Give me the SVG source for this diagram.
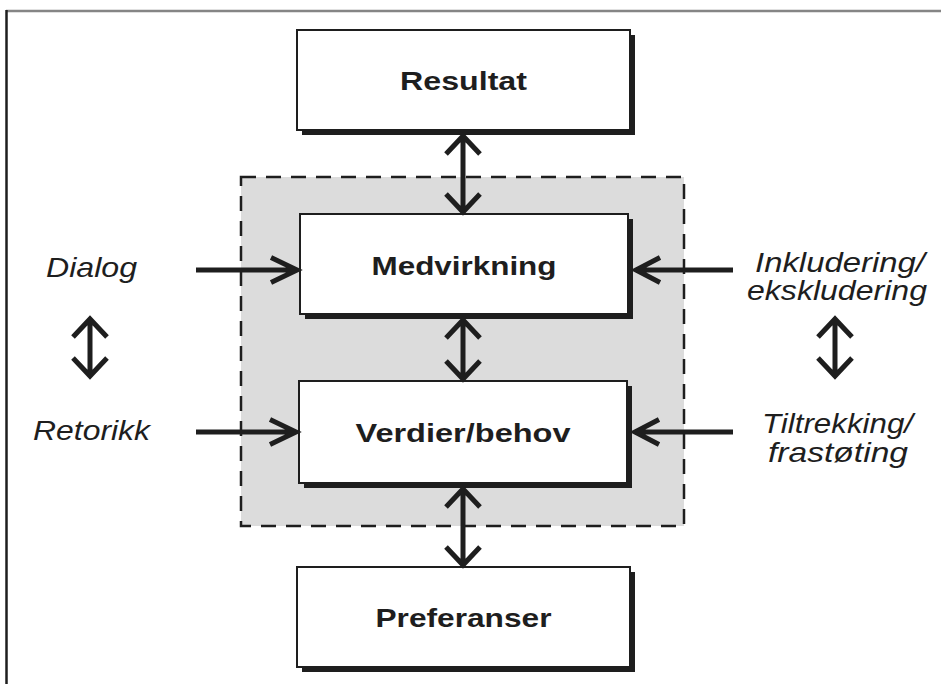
<svg xmlns="http://www.w3.org/2000/svg" width="941" height="684" viewBox="0 0 941 684">
<defs>
<style>
.frameTop{stroke:#858585;stroke-width:2.5;fill:none}
.frameLeft{stroke:#1e1e1e;stroke-width:2.5;fill:none}
.zone{fill:#dcdcdc;stroke:#1e1e1e;stroke-width:2.5;stroke-dasharray:15 10}
.shadow{fill:#1e1e1e}
.box{fill:#ffffff;stroke:#1e1e1e;stroke-width:2}
.lbl{font-family:"Liberation Sans",Arial,sans-serif;font-weight:bold;font-size:26.5px;fill:#1e1e1e;text-anchor:middle}
.side{font-family:"Liberation Sans",Arial,sans-serif;font-style:italic;font-size:28px;fill:#1e1e1e}
.ln{stroke:#1e1e1e;stroke-width:5;fill:none;stroke-linecap:butt;stroke-linejoin:miter}
</style>
</defs>
<line class="frameTop" x1="6" y1="11" x2="941" y2="11"/>
<line class="frameLeft" x1="6.5" y1="10" x2="6.5" y2="684"/>
<rect id="zone" class="zone" x="241" y="177" width="443" height="349"/>

<g id="resultat">
<rect class="shadow" x="302" y="35" width="333" height="100"/>
<rect class="box" x="297" y="30" width="333" height="100"/>
<text class="lbl" x="463.5" y="90" textLength="127" lengthAdjust="spacingAndGlyphs">Resultat</text>
</g>
<g id="medvirkning">
<rect class="shadow" x="305" y="219" width="328" height="100"/>
<rect class="box" x="300" y="214" width="328" height="100"/>
<text class="lbl" x="464" y="275" textLength="185" lengthAdjust="spacingAndGlyphs">Medvirkning</text>
</g>
<g id="verdier">
<rect class="shadow" x="304" y="386" width="328" height="102"/>
<rect class="box" x="299" y="381" width="328" height="102"/>
<text class="lbl" x="463" y="442" textLength="215" lengthAdjust="spacingAndGlyphs">Verdier/behov</text>
</g>
<g id="preferanser">
<rect class="shadow" x="302" y="572" width="333" height="100"/>
<rect class="box" x="297" y="567" width="333" height="100"/>
<text class="lbl" x="463.5" y="627" textLength="176" lengthAdjust="spacingAndGlyphs">Preferanser</text>
</g>

<g id="dialog"><text class="side" x="46" y="277" textLength="91" lengthAdjust="spacingAndGlyphs">Dialog</text></g>
<g id="retorikk"><text class="side" x="33" y="440" textLength="117" lengthAdjust="spacingAndGlyphs">Retorikk</text></g>
<g id="inkludering"><text class="side" x="755" y="272" textLength="170" lengthAdjust="spacingAndGlyphs">Inkludering/</text><text class="side" x="747" y="300" textLength="180" lengthAdjust="spacingAndGlyphs">ekskludering</text></g>
<g id="tiltrekking"><text class="side" x="762" y="433" textLength="151" lengthAdjust="spacingAndGlyphs">Tiltrekking/</text><text class="side" x="768" y="462" textLength="140" lengthAdjust="spacingAndGlyphs">frastøting</text></g>

<g id="connectors">
<path class="ln" d="M463 136V212M446 154L463 136L480 154M446 194L463 212L480 194"/>
<path class="ln" d="M463 320V379M446 338L463 320L480 338M446 361L463 379L480 361"/>
<path class="ln" d="M463 489V565M446 507L463 489L480 507M446 547L463 565L480 547"/>
<path class="ln" d="M196 270H297M271 257.5L297 270L271 282.5"/>
<path class="ln" d="M196 432H296M270 419.5L296 432L270 444.5"/>
<path class="ln" d="M733 270H636M660 257.5L636 270L660 282.5"/>
<path class="ln" d="M733 432H635M659 419.5L635 432L659 444.5"/>
<path class="ln" d="M90 319V376M73 337L90 319L107 337M73 358L90 376L107 358"/>
<path class="ln" d="M835 319V376M818 337L835 319L852 337M818 358L835 376L852 358"/>
</g>
</svg>
